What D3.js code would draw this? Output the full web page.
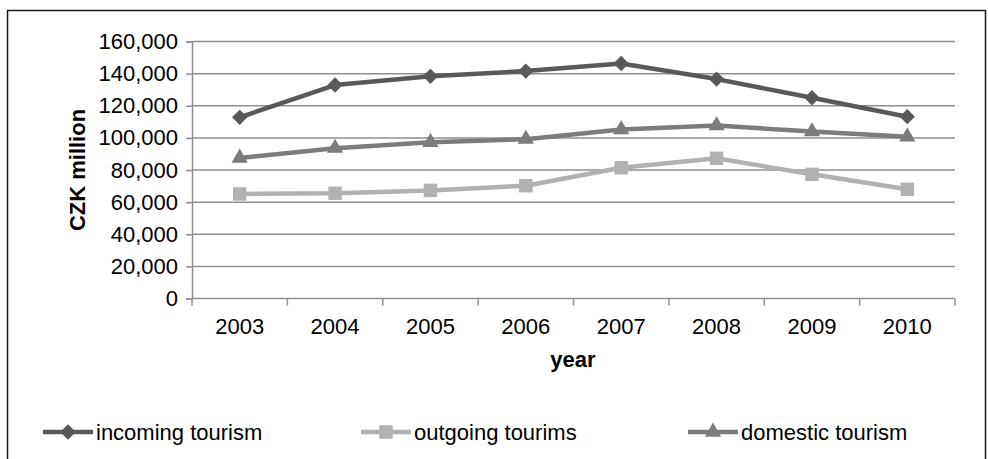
<!DOCTYPE html>
<html>
<head>
<meta charset="utf-8">
<script src="https://cdn.jsdelivr.net/npm/d3@7"></script>
<style>
  html, body { margin: 0; padding: 0; background: #fff; }
  svg { display: block; font-family: "Liberation Sans", Arial, sans-serif; }
</style>
</head>
<body>
<svg id="chart" width="988" height="459"></svg>
<script>
// Tourism spending in CZK million, 2003–2010
const years = ["2003", "2004", "2005", "2006", "2007", "2008", "2009", "2010"];
const incoming = [112800, 132900, 138300, 141600, 146300, 136600, 125000, 113200];
const outgoing = [65100, 65500, 67300, 70200, 81400, 87300, 77300, 68000];
const domestic = [87500, 93600, 97300, 99200, 105200, 107700, 103900, 100700];
const yTicks = [0, 20000, 40000, 60000, 80000, 100000, 120000, 140000, 160000];
const seriesNames = ["incoming tourism", "outgoing tourims", "domestic tourism"];

const series = [
  { name: seriesNames[0], values: incoming, color: "#595959", symbol: d3.symbolDiamond2, size: 150 },
  { name: seriesNames[1], values: outgoing, color: "#b1b1b1", symbol: d3.symbolSquare2, size: 230 },
  { name: seriesNames[2], values: domestic, color: "#7c7c7c", symbol: d3.symbolTriangle2, size: 190 }
];

const svg = d3.select("#chart");
const plot = { left: 192, right: 955, top: 41.5, bottom: 298.5 };

// Outer frame
svg.append("rect")
  .attr("x", 7.5).attr("y", 10.5)
  .attr("width", 978).attr("height", 470)
  .attr("fill", "none").attr("stroke", "#1a1a1a").attr("stroke-width", 1.5);

const x = d3.scaleBand().domain(years).range([plot.left, plot.right]).padding(0);
const y = d3.scaleLinear().domain([0, 160000]).range([plot.bottom, plot.top]);

// Horizontal gridlines
svg.append("g")
  .selectAll("line")
  .data(yTicks.filter(v => v > 0))
  .join("line")
  .attr("x1", plot.left).attr("x2", plot.right)
  .attr("y1", d => y(d)).attr("y2", d => y(d))
  .attr("stroke", "#8f8f8f").attr("stroke-width", 1.5);

// Y axis
const yAxis = svg.append("g")
  .attr("transform", `translate(${plot.left},0)`)
  .call(d3.axisLeft(y).tickValues(yTicks).tickFormat(d3.format(",")).tickSize(6).tickPadding(8));
yAxis.select(".domain").attr("stroke", "#8f8f8f").attr("stroke-width", 1.5);
yAxis.selectAll(".tick line").attr("stroke", "#8f8f8f").attr("stroke-width", 1.5);
yAxis.selectAll(".tick text")
  .attr("fill", "#000").style("font-size", "22px")
  .style("font-family", "'Liberation Sans', Arial, sans-serif");

// X axis with ticks at category boundaries
const xAxisG = svg.append("g").attr("transform", `translate(0,${plot.bottom})`);
xAxisG.append("line")
  .attr("x1", plot.left).attr("x2", plot.right)
  .attr("stroke", "#8f8f8f").attr("stroke-width", 1.5);
const boundaries = years.map(d => x(d)).concat([x(years[years.length - 1]) + x.bandwidth()]);
xAxisG.selectAll("line.bound")
  .data(boundaries)
  .join("line").attr("class", "bound")
  .attr("x1", d => d).attr("x2", d => d)
  .attr("y1", 0).attr("y2", 7)
  .attr("stroke", "#8f8f8f").attr("stroke-width", 1.5);
xAxisG.selectAll("text")
  .data(years)
  .join("text")
  .attr("x", d => x(d) + x.bandwidth() / 2)
  .attr("y", 35.5)
  .attr("text-anchor", "middle")
  .style("font-size", "22px")
  .text(d => d);

// Axis titles
svg.append("text")
  .attr("x", 573).attr("y", 367)
  .attr("text-anchor", "middle")
  .style("font-size", "22px").style("font-weight", "bold")
  .text("year");
svg.append("text")
  .attr("transform", "translate(85,170) rotate(-90)")
  .attr("text-anchor", "middle")
  .style("font-size", "22px").style("font-weight", "bold")
  .text("CZK million");

// Series lines and markers
const line = d3.line()
  .x((d, i) => x(years[i]) + x.bandwidth() / 2)
  .y(d => y(d));

series.forEach(s => {
  svg.append("path")
    .datum(s.values)
    .attr("d", line)
    .attr("fill", "none")
    .attr("stroke", s.color)
    .attr("stroke-width", 4.5)
    .attr("stroke-linejoin", "round");
});
series.forEach(s => {
  svg.append("g")
    .selectAll("path")
    .data(s.values)
    .join("path")
    .attr("transform", (d, i) => `translate(${x(years[i]) + x.bandwidth() / 2},${y(d)})`)
    .attr("d", d3.symbol().type(s.symbol).size(s.size))
    .attr("fill", s.color);
});

// Legend
const legendX = [43, 361, 688];
const legend = svg.append("g");
series.forEach((s, i) => {
  const g = legend.append("g").attr("transform", `translate(${legendX[i]},432)`);
  g.append("line")
    .attr("x1", 0).attr("x2", 50)
    .attr("stroke", s.color).attr("stroke-width", 4.5);
  g.append("path")
    .attr("transform", "translate(25,0)")
    .attr("d", d3.symbol().type(s.symbol).size(s.size))
    .attr("fill", s.color);
  g.append("text")
    .attr("x", 53).attr("y", 7.5)
    .style("font-size", "22px")
    .text(s.name);
});
</script>
</body>
</html>
